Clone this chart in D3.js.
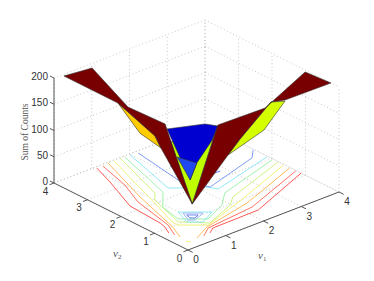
<!DOCTYPE html>
<html>
<head>
<meta charset="utf-8">
<script src="https://cdn.jsdelivr.net/npm/d3@7"></script>
<style>
html, body { margin: 0; padding: 0; background: #fff; }
svg { display: block; }
.tick-label { font-family: "Liberation Sans", sans-serif; font-size: 10px; fill: #333; text-anchor: middle; }
.axis-label { font-family: "Liberation Serif", serif; font-size: 9.5px; fill: #555; }
</style>
</head>
<body>
<div id="chart"></div>
<script>
const v1Ticks = [0, 1, 2, 3, 4];
const v2Ticks = [0, 1, 2, 3, 4];
const countTicks = [0, 50, 100, 150, 200];

// Contours on the floor, [v1, v2]
const contourRed1 = [[1.09, 3.95], [0.87, 3.31], [0.45, 2.24], [0.39, 1.27], [0.34, 1.07], [0.22, 0.82]];
const contourRed1b = [[4.0, 1.13], [2.25, 0.44], [1.03, 0.42], [0.84, 0.29]];
const contourRed2 = [[1.24, 3.94], [1.0, 3.01], [0.69, 2.27], [0.45, 1.10], [0.25, 0.68]];
const contourRed2b = [[3.98, 1.27], [2.25, 0.62], [0.96, 0.48], [0.66, 0.27]];
const contourOrange = [[1.41, 3.98], [0.87, 2.41], [0.46, 0.97], [0.27, 0.54]];
const contourOrangeb = [[3.98, 1.45], [2.29, 0.82], [0.97, 0.53], [0.49, 0.29]];
const contourYellow = [[1.56, 3.97], [0.91, 2.02], [0.60, 1.15], [0.60, 0.97], [1.05, 0.58], [2.3, 1.0], [3.98, 1.63]];
const contourYellowDash = [[0.24, 0.33], [0.28, 0.23]];
const contourLime = [[1.74, 3.99], [1.21, 2.35], [1.0, 2.12], [0.78, 1.36], [0.69, 1.08], [1.14, 0.63], [1.98, 0.97], [2.26, 1.21], [3.98, 1.80]];
const contourGreen = [[1.84, 3.96], [1.36, 2.28], [0.91, 1.78], [0.78, 1.18], [1.23, 0.79], [1.86, 1.08], [2.26, 1.45], [3.95, 1.95]];
const contourCyan = [[1.98, 3.96], [1.56, 2.35], [1.74, 2.20], [2.17, 1.88], [2.28, 1.67], [3.97, 2.12]];
const contourBlue = [[2.16, 3.92], [1.95, 2.49], [2.22, 1.84], [3.72, 2.28], [3.97, 2.53]];
const contourBlueStubL = [[2.25, 3.07], [2.22, 2.86]];
const contourBlueStubR = [[2.56, 2.26], [2.85, 2.25]];
const loopCyan = [[0.99, 1.41], [1.50, 0.97], [1.06, 0.75], [0.82, 0.96], [0.99, 1.41]];
const loopSky = [[1.03, 1.31], [1.33, 1.05], [1.00, 0.92], [0.90, 1.01], [1.03, 1.31]];
const loopBlue = [[1.03, 1.20], [1.20, 1.05], [1.06, 0.99], [0.99, 1.06], [1.03, 1.20]];

// Surface sheets, [v1, v2, count]
const sheetGreen = [[1.5, 2.2, 94], [1.83, 1.2, 143.6], [1, 1, 28]];
const sheetBlue = [[1.7, 2.54, 102.5], [4, 4, 2], [3, 2.49, 73.9], [1.97, 1.5, 107], [2, 1.99, 47], [1.85, 2.02, 17.9]];
const sheetBlueTip = [[1.7, 2.24, 58.7], [1.85, 2.02, 17.9], [2, 1.99, 47]];
const sheetOrange = [[0.21, 2.33, 200], [0.2, 1.66, 164], [0.8, 1.71, 117.7], [0.6, 1.66, 147.6]];
const sheetYellow = [[2.8, 0.26, 198], [2.28, 0.3, 156], [1.77, 0.8, 106.5], [2.0, 0.7, 133.9], [2.64, 0.5, 193]];
const sheetMaroonLeft = [[0.21, 3.94, 200], [1, 3.99, 191.8], [1, 2.92, 151.6], [1, 1.81, 154.7], [1, 1, 28], [0.8, 1.71, 117.7], [0.6, 1.66, 147.6], [0.21, 2.33, 200]];
const sheetMaroonRight = [[1, 1, 28], [1.68, 1, 159.8], [2.93, 1, 157.6], [3.99, 1, 197], [4, 0.24, 200], [2.8, 0.26, 200], [2.64, 0.5, 193], [2.0, 0.7, 133.9], [1.77, 0.8, 106.5]];

const width = 374, height = 281;
const originX = 188, originY = 250;

const v1X = d3.scaleLinear().domain([0, 4]).range([0, 151]);
const v1Y = d3.scaleLinear().domain([0, 4]).range([0, -58]);
const v2X = d3.scaleLinear().domain([0, 4]).range([0, -134]);
const v2Y = d3.scaleLinear().domain([0, 4]).range([0, -67]);
const countY = d3.scaleLinear().domain([0, 200]).range([0, -105]);

// Oblique projection of (v1, v2, count) on the page
const px = d => originX + v1X(d[0]) + v2X(d[1]);
const py = d => originY + v1Y(d[0]) + v2Y(d[1]) + countY(d[2] || 0);
const line = d3.line().x(px).y(py);

const svg = d3.select("#chart").append("svg")
    .attr("width", width)
    .attr("height", height);

// Dotted grid: floor and the two back walls
const gridLines = [];
v1Ticks.forEach(t => {
    gridLines.push([[t, 0, 0], [t, 4, 0]]);
    gridLines.push([[t, 4, 0], [t, 4, 200]]);
});
v2Ticks.forEach(t => {
    gridLines.push([[0, t, 0], [4, t, 0]]);
    gridLines.push([[4, t, 0], [4, t, 200]]);
});
countTicks.forEach(t => {
    gridLines.push([[0, 4, t], [4, 4, t]]);
    gridLines.push([[4, 4, t], [4, 0, t]]);
});
svg.append("g").selectAll("path")
    .data(gridLines)
    .enter()
    .append("path")
    .attr("d", line)
    .attr("fill", "none")
    .attr("stroke", "#bbb")
    .attr("stroke-width", 0.8)
    .attr("stroke-dasharray", "1 2.5");

// Contours
const contours = [
    [contourRed1, "#ff3a3a"], [contourRed1b, "#ff3a3a"],
    [contourRed2, "#ff5a4a"], [contourRed2b, "#ff5a4a"],
    [contourOrange, "#ffb040"], [contourOrangeb, "#ffb040"],
    [contourYellow, "#eef060"], [contourYellowDash, "#eef060"],
    [contourLime, "#c8f070"],
    [contourGreen, "#90f0a0"],
    [contourCyan, "#80e4f4"],
    [contourBlue, "#6a8cf4"],
    [contourBlueStubL, "#4060f0"], [contourBlueStubR, "#4060f0"],
    [loopCyan, "#80e4f4"], [loopSky, "#90b0f4"], [loopBlue, "#5070f0"]
];
svg.append("g").selectAll("path")
    .data(contours)
    .enter()
    .append("path")
    .attr("d", d => line(d[0]))
    .attr("fill", "none")
    .attr("stroke", d => d[1])
    .attr("stroke-opacity", 0.85)
    .attr("stroke-width", 1);

// Surface, back to front
const closed = d3.line().x(px).y(py).curve(d3.curveLinearClosed);
const sheets = [
    [sheetGreen, "#bfff00"],
    [sheetBlue, "#0000d0"],
    [sheetBlueTip, "#2048f0"],
    [sheetOrange, "#ffcc00"],
    [sheetYellow, "#d4ff00"],
    [sheetMaroonLeft, "#780000"],
    [sheetMaroonRight, "#780000"]
];
svg.append("g").selectAll("path")
    .data(sheets)
    .enter()
    .append("path")
    .attr("d", d => closed(d[0]))
    .attr("fill", d => d[1])
    .attr("stroke", "#333")
    .attr("stroke-width", 0.6)
    .attr("stroke-linejoin", "round");

// Axes
const axisColor = "#555";
const axisLines = [
    [[0, 4, 0], [0, 0, 0]],
    [[0, 0, 0], [4, 0, 0]],
    [[0, 4, 0], [0, 4, 200]]
];
v1Ticks.forEach(t => axisLines.push([[t, 0, 0], [t, -0.14, 0]]));
v2Ticks.forEach(t => axisLines.push([[0, t, 0], [-0.12, t, 0]]));
countTicks.forEach(t => axisLines.push([[0, 4, t], [0, 4.12, t]]));
svg.append("g").selectAll("path")
    .data(axisLines)
    .enter()
    .append("path")
    .attr("d", line)
    .attr("fill", "none")
    .attr("stroke", axisColor)
    .attr("stroke-width", 1);

// Tick labels
svg.append("g").selectAll("text")
    .data(v1Ticks)
    .enter()
    .append("text")
    .attr("class", "tick-label")
    .text(d => d)
    .attr("x", d => px([d, -0.45, 0]) - 7)
    .attr("y", d => py([d, -0.45, 0]) + 5.5);

svg.append("g").selectAll("text")
    .data(v2Ticks)
    .enter()
    .append("text")
    .attr("class", "tick-label")
    .text(d => d)
    .attr("x", d => px([-0.25, d, 0]) + 1)
    .attr("y", d => py([-0.25, d, 0]) + 8);

svg.append("g").selectAll("text")
    .data(countTicks)
    .enter()
    .append("text")
    .attr("class", "tick-label")
    .style("text-anchor", "end")
    .text(d => d)
    .attr("x", px([0, 4, 0]) - 6)
    .attr("y", d => py([0, 4, d]) + 2);

// Axis titles
svg.append("text")
    .attr("class", "axis-label")
    .attr("text-anchor", "middle")
    .attr("transform", "translate(28,132) rotate(-90)")
    .text("Sum of Counts");

[["1", 258, 259], ["2", 113, 257]].forEach(d => {
    const t = svg.append("text")
        .attr("class", "axis-label")
        .attr("x", d[1])
        .attr("y", d[2]);
    t.append("tspan").attr("font-style", "italic").attr("font-size", "11px").text("v");
    t.append("tspan").attr("font-size", "7px").attr("dy", 2).text(d[0]);
});
</script>
</body>
</html>
